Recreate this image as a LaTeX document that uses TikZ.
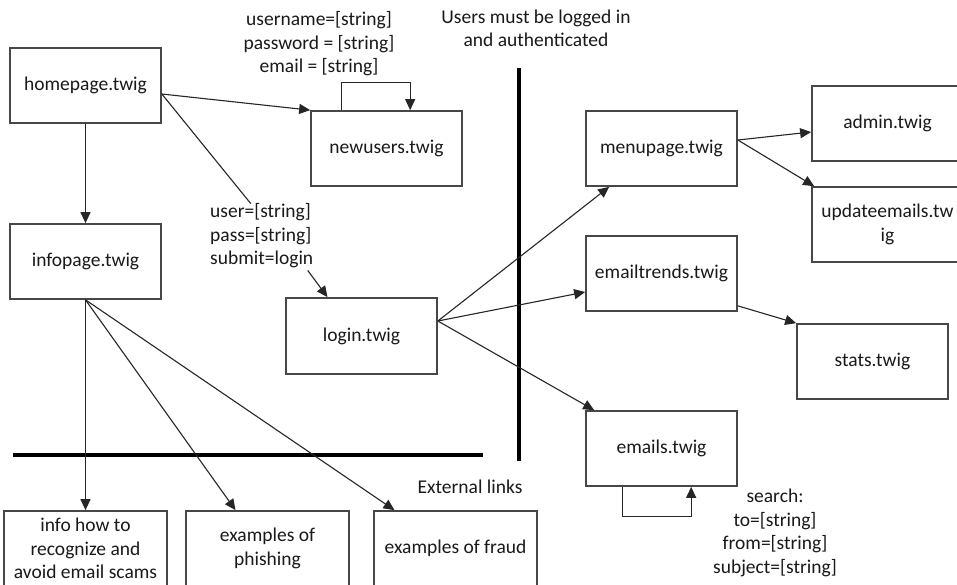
\documentclass[tikz,border=0pt]{standalone}
\usepackage{fontspec}
\setmainfont{Carlito}
\usetikzlibrary{arrows.meta}
\begin{document}
\begin{tikzpicture}[x=1pt,y=-1pt,
  every node/.style={font=\fontsize{19.5}{23.5}\selectfont, text=black!90},
  page/.style={draw=black!72, line width=1.7pt, minimum width=151pt, minimum height=75pt, inner sep=2pt, align=center},
  wpage/.style={page, minimum width=163pt},
  lbl/.style={inner sep=0pt, align=center},
  arr/.style={draw=black!85, line width=1.1pt, -{Triangle[length=11pt,width=10pt]}},
  ln/.style={draw=black!85, line width=1.1pt},
  bar/.style={draw=black, line width=3.5pt}]
\clip (0,0) rectangle (957,584);
\fill[white] (0,0) rectangle (957,584);
% nodes
\node[page] (home) at (85.5,85.5) {homepage.twig};
\node[page] (newu) at (386.5,148.5) {newusers.twig};
\node[page] (info) at (85.5,261.5) {infopage.twig};
\node[page, minimum height=76pt] (login) at (361.5,336) {login.twig};
\node[page] (menu) at (661.5,148.5) {menupage.twig};
\node[page] (admin) at (887.5,123.5) {admin.twig};
\node[page] (upd) at (887.5,224.5) {updateemails.tw\\ig};
\node[page] (trends) at (661.5,273.5) {emailtrends.twig};
\node[page] (stats) at (872.5,361.5) {stats.twig};
\node[page] (emails) at (661.5,448.5) {emails.twig};
\node[wpage] (howto) at (85.5,548.5) {info how to\\recognize and\\avoid email scams};
\node[wpage] (phish) at (267.5,548.5) {examples of\\phishing};
\node[wpage] (fraud) at (455.5,548.5) {examples of fraud};
% labels
\node[lbl] (reglbl) at (319,44) {username=[string]\\password = [string]\\email = [string]};
\node[lbl, align=left, anchor=west] (loglbl) at (210,236) {user=[string]\\pass=[string]\\submit=login};
\node[lbl] (authlbl) at (536,28.5) {Users must be logged in\\and authenticated};
\node[lbl] (extlbl) at (470,487) {External links};
\node[lbl] (searchlbl) at (775,533) {search:\\to=[string]\\from=[string]\\subject=[string]};
% separators
\coordinate (vtop) at (519,68);
\coordinate (vbot) at (519,461);
\coordinate (hl) at (13,455);
\coordinate (hr) at (483,455);
\draw[bar] (vtop) -- (vbot);
\draw[bar] (hl) -- (hr);
% connectors
\coordinate (hs) at ([yshift=-8.5pt]home.east);
\draw[arr] (hs) -- (newu.north west);
\draw[ln] (hs) -- ([xshift=-11pt]loglbl.north);
\draw[arr] ([xshift=46pt,yshift=-2pt]loglbl.south) -- ([xshift=-34pt]login.north);
\draw[arr] ([xshift=31pt]newu.north west) -- ++(0,-28) -| ([xshift=100pt]newu.north west);
\draw[arr] (home.south) -- (info.north);
\draw[arr] (info.south) -- (howto.north);
\draw[arr] (info.south) -- ([xshift=-32pt]phish.north);
\draw[arr] (info.south) -- ([xshift=-61pt]fraud.north);
\coordinate (ls) at ([yshift=15pt]login.east);
\draw[arr] (ls) -- ([xshift=24pt]menu.south west);
\draw[arr] (ls) -- ([yshift=-18.5pt]trends.west);
\draw[arr] (ls) -- ([xshift=9pt]emails.north west);
\coordinate (ms) at ([yshift=8.5pt]menu.east);
\draw[arr] (ms) -- ([yshift=-8.5pt]admin.west);
\draw[arr] (ms) -- ([xshift=3pt]upd.north west);
\draw[arr] ([yshift=6pt]trends.south east) -- (stats.north west);
\draw[arr] ([xshift=37pt]emails.south west) -- ++(0,30) -| ([xshift=106pt]emails.south west);
\end{tikzpicture}
\end{document}
